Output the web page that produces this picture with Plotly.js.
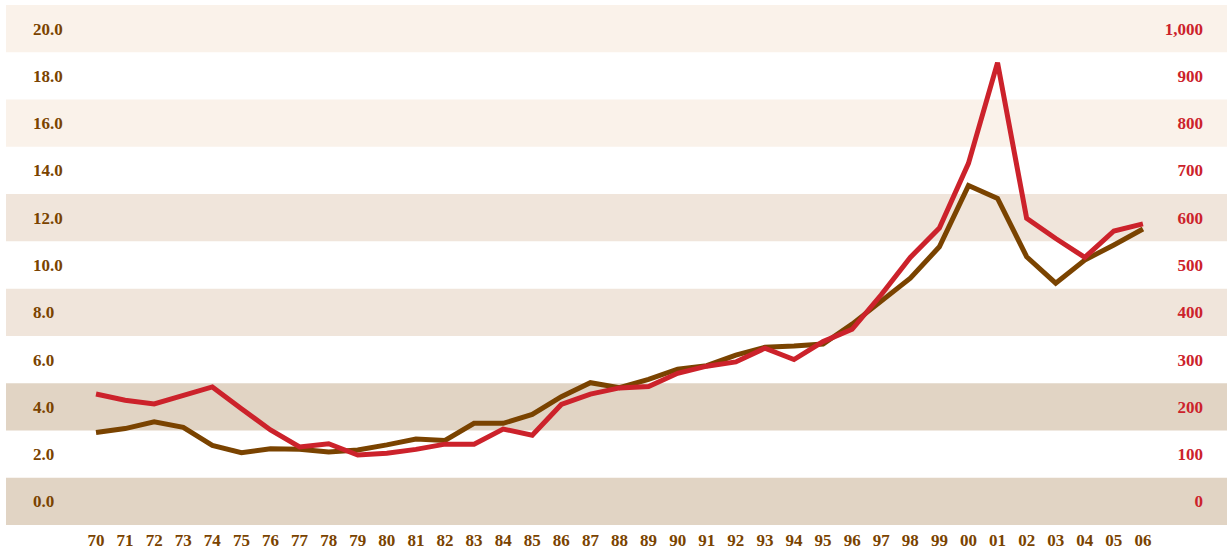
<!DOCTYPE html>
<html>
<head>
<meta charset="utf-8">
<script src="https://cdn.plot.ly/plotly-3.0.1.min.js"></script>
<style>html,body{margin:0;padding:0;background:#fff;}#chart{width:1227px;height:557px;}</style>
</head>
<body>
<div id="chart"></div>
<script>
// Year labels
const years = ["70","71","72","73","74","75","76","77","78","79","80","81","82","83","84","85","86","87","88","89","90","91","92","93","94","95","96","97","98","99","00","01","02","03","04","05","06"];
// Brown series (left axis, 0-20)
const brownSeries = [2.91,3.08,3.37,3.13,2.37,2.06,2.23,2.20,2.09,2.17,2.39,2.64,2.58,3.30,3.30,3.68,4.43,5.02,4.81,5.16,5.59,5.74,6.19,6.52,6.57,6.66,7.50,8.45,9.44,10.77,13.36,12.82,10.35,9.23,10.21,10.85,11.52];
// Red series (right axis, 0-1000)
const redSeries = [227,214,206,225,242,196,151,115,122,98,102,110,121,121,153,140,205,227,240,243,271,286,295,324,300,338,364,437,516,578,715,928,599,556,516,572,587];
// Axis ticks
const leftTicks = [0,2,4,6,8,10,12,14,16,18,20];
const leftTickText = ["0.0","2.0","4.0","6.0","8.0","10.0","12.0","14.0","16.0","18.0","20.0"];
const rightTicks = [0,100,200,300,400,500,600,700,800,900,1000];
const rightTickText = ["0","100","200","300","400","500","600","700","800","900","1,000"];

const xIdx = years.map((_, i) => i);
const BROWN = "#7a4300";
const RED = "#cc222b";
const fontFam = "Liberation Serif, serif";

// background bands centered on each left tick
const bandColor = {0:"#e1d4c4",4:"#e1d4c4",8:"#f0e5db",12:"#f0e5db",16:"#faf2ea",20:"#faf2ea"};
const shapes = [];
leftTicks.forEach(v => {
  if (bandColor[v]) {
    shapes.push({type:"rect", xref:"paper", yref:"y", x0:0, x1:1, y0:v-1, y1:v+1,
      fillcolor:bandColor[v], line:{width:0}, layer:"below"});
  }
});

const traces = [
  {x:xIdx, y:redSeries, yaxis:"y2", type:"scatter", mode:"lines",
   line:{color:RED, width:5}, hoverinfo:"skip"},
  {x:xIdx, y:brownSeries, yaxis:"y", type:"scatter", mode:"lines",
   line:{color:BROWN, width:5}, hoverinfo:"skip"}
];

const layout = {
  width:1227, height:557,
  margin:{l:6, r:0, t:5, b:32},
  paper_bgcolor:"#ffffff", plot_bgcolor:"#ffffff",
  showlegend:false,
  shapes: shapes,
  xaxis:{range:[-3.095, 38.89], tickvals:xIdx, ticktext:years, showgrid:false, zeroline:false,
    showline:false, ticks:"", tickfont:{family:fontFam, size:17, color:BROWN, weight:"bold"}, ticklabelstandoff:3, fixedrange:true},
  yaxis:{range:[-1,21], tickvals:leftTicks, ticktext:leftTickText, showgrid:false, zeroline:false,
    showline:false, ticks:"", ticklabelposition:"inside", ticklabelstandoff:24,
    tickfont:{family:fontFam, size:17, color:BROWN, weight:"bold"}, fixedrange:true},
  yaxis2:{range:[-50,1050], overlaying:"y", side:"right", tickvals:rightTicks, ticktext:rightTickText,
    showgrid:false, zeroline:false, showline:false, ticks:"", ticklabelposition:"inside", ticklabelstandoff:21,
    tickfont:{family:fontFam, size:17, color:RED, weight:"bold"}, fixedrange:true}
};

Plotly.newPlot("chart", traces, layout, {displayModeBar:false, staticPlot:true});
</script>
</body>
</html>
